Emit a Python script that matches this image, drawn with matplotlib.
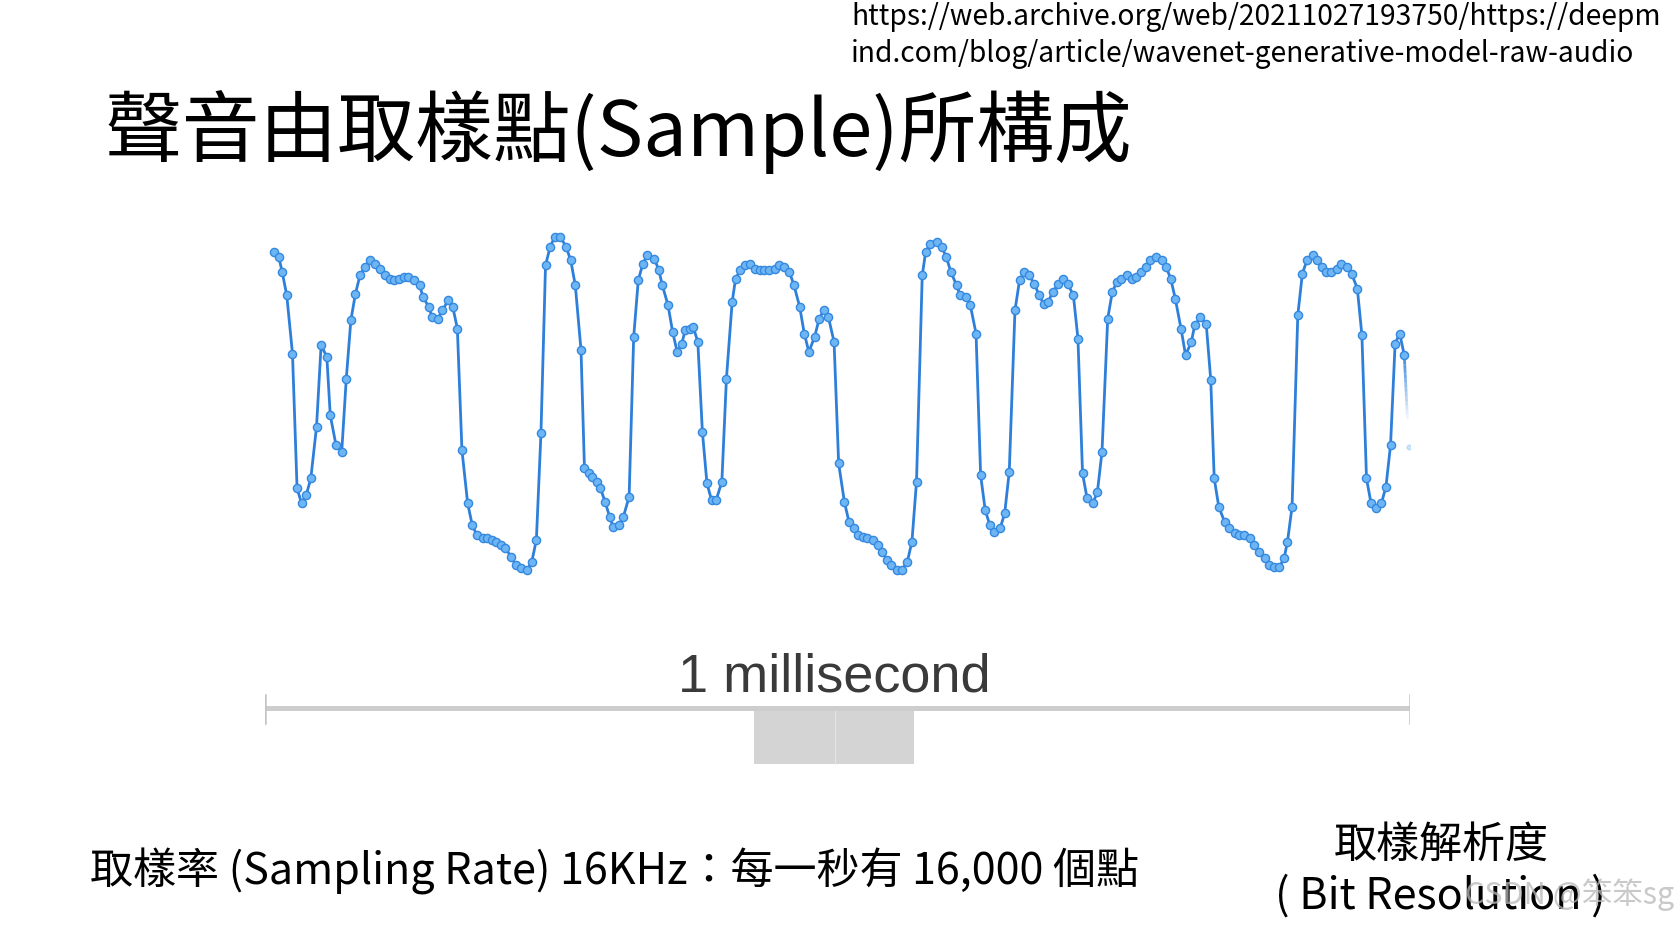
import numpy as np
import matplotlib
matplotlib.use("Agg")
import matplotlib.pyplot as plt
from matplotlib.collections import LineCollection
from matplotlib.patches import Rectangle
from matplotlib.colors import to_rgba

# ---- waveform samples: time (ms) and normalised amplitude ----
time_ms = [
    0.008, 0.012, 0.015, 0.019, 0.024, 0.028, 0.032, 0.036, 0.040, 0.045,
    0.049, 0.054, 0.057, 0.062, 0.067, 0.071, 0.075, 0.079, 0.083, 0.087,
    0.092, 0.096, 0.100, 0.105, 0.109, 0.113, 0.117, 0.121, 0.125, 0.130,
    0.135, 0.138, 0.143, 0.146, 0.151, 0.155, 0.160, 0.164, 0.168, 0.172,
    0.177, 0.181, 0.185, 0.190, 0.194, 0.198, 0.202, 0.206, 0.210, 0.215,
    0.219, 0.224, 0.229, 0.233, 0.237, 0.241, 0.245, 0.249, 0.253, 0.258,
    0.263, 0.267, 0.271, 0.276, 0.279, 0.283, 0.286, 0.290, 0.293, 0.297,
    0.301, 0.304, 0.309, 0.313, 0.318, 0.322, 0.326, 0.330, 0.334,
    0.340, 0.344, 0.347, 0.352, 0.356, 0.360, 0.364, 0.367, 0.371, 0.374,
    0.378, 0.382, 0.386, 0.390, 0.394, 0.399, 0.403, 0.408, 0.411, 0.415,
    0.419, 0.424, 0.428, 0.432, 0.436, 0.440, 0.445, 0.449, 0.453, 0.458,
    0.462, 0.467, 0.471, 0.475, 0.480, 0.484, 0.488, 0.492, 0.497, 0.501,
    0.506, 0.510, 0.514, 0.518, 0.522, 0.526, 0.531, 0.535, 0.539, 0.543,
    0.547, 0.552, 0.556, 0.561, 0.565, 0.569, 0.574, 0.577, 0.581, 0.587,
    0.591, 0.595, 0.599, 0.604, 0.607, 0.612, 0.616, 0.621, 0.625, 0.629,
    0.633, 0.637, 0.642, 0.646, 0.650, 0.655, 0.659, 0.663, 0.667,
    0.672, 0.676, 0.680, 0.684, 0.688, 0.693, 0.697, 0.701, 0.706, 0.710,
    0.714, 0.718, 0.723, 0.727, 0.731, 0.736, 0.740, 0.744, 0.748, 0.753,
    0.757, 0.761, 0.765, 0.769, 0.773, 0.778, 0.783, 0.787, 0.791, 0.795,
    0.800, 0.804, 0.809, 0.812, 0.817, 0.822, 0.826, 0.829, 0.833,
    0.838, 0.842, 0.847, 0.851, 0.855, 0.860, 0.864, 0.868, 0.873, 0.877,
    0.881, 0.886, 0.890, 0.893, 0.897, 0.902, 0.906, 0.910, 0.915, 0.919,
    0.923, 0.927, 0.931, 0.936, 0.940, 0.945, 0.949, 0.954, 0.958, 0.962,
    0.966, 0.970, 0.975, 0.979, 0.983, 0.987, 0.991, 0.995, 0.999,
]

amplitude = [
    0.91, 0.88, 0.79, 0.65, 0.30, -0.51, -0.60, -0.55, -0.45, -0.14,
    0.35, 0.28, -0.07, -0.25, -0.29, 0.15, 0.50, 0.66, 0.77, 0.82,
    0.86, 0.84, 0.81, 0.77, 0.75, 0.74, 0.75, 0.76, 0.76, 0.74,
    0.71, 0.64, 0.58, 0.52, 0.51, 0.56, 0.62, 0.58, 0.45, -0.28,
    -0.60, -0.73, -0.79, -0.81, -0.81, -0.82, -0.83, -0.85, -0.87, -0.92,
    -0.97, -0.99, -1.00, -0.95, -0.82, -0.18, 0.83, 0.94, 1.00, 1.00,
    0.94, 0.86, 0.71, 0.32, -0.39, -0.42, -0.44, -0.47, -0.51, -0.59,
    -0.68, -0.74, -0.73, -0.68, -0.56, 0.40, 0.74, 0.84, 0.89,
    0.87, 0.80, 0.71, 0.59, 0.43, 0.31, 0.36, 0.44, 0.45, 0.46,
    0.37, -0.17, -0.48, -0.58, -0.58, -0.47, 0.15, 0.61, 0.75, 0.80,
    0.83, 0.84, 0.81, 0.80, 0.80, 0.80, 0.81, 0.83, 0.82, 0.79,
    0.71, 0.58, 0.42, 0.31, 0.40, 0.51, 0.56, 0.52, 0.37, -0.36,
    -0.59, -0.71, -0.75, -0.79, -0.80, -0.81, -0.82, -0.85, -0.89, -0.94,
    -0.97, -1.00, -1.00, -0.95, -0.83, -0.47, 0.77, 0.91, 0.96, 0.97,
    0.94, 0.88, 0.79, 0.71, 0.65, 0.64, 0.59, 0.42, -0.43, -0.64,
    -0.73, -0.77, -0.75, -0.66, -0.41, 0.56, 0.74, 0.79, 0.77,
    0.72, 0.65, 0.60, 0.61, 0.67, 0.72, 0.75, 0.72, 0.65, 0.39,
    -0.42, -0.57, -0.60, -0.53, -0.29, 0.51, 0.67, 0.73, 0.75, 0.77,
    0.75, 0.76, 0.79, 0.82, 0.86, 0.88, 0.86, 0.82, 0.75, 0.63,
    0.45, 0.29, 0.37, 0.47, 0.52, 0.48, 0.14, -0.45, -0.62,
    -0.71, -0.75, -0.78, -0.79, -0.79, -0.81, -0.85, -0.89, -0.93, -0.97,
    -0.98, -0.98, -0.93, -0.83, -0.62, 0.53, 0.78, 0.86, 0.89, 0.86,
    0.82, 0.79, 0.79, 0.81, 0.84, 0.82, 0.78, 0.69, 0.41, -0.45,
    -0.60, -0.63, -0.60, -0.50, -0.25, 0.36, 0.42, 0.29, -0.26,
]

scale_label = "1 millisecond"
title_text = "聲音由取樣點(Sample)所構成"
source_lines = ["https://web.archive.org/web/20211027193750/https://deepm",
                "ind.com/blog/article/wavenet-generative-model-raw-audio"]
rate_text = "取樣率 (Sampling Rate) 16KHz：每一秒有 16,000 個點"
resolution_lines = ["取樣解析度", "( Bit Resolution )"]
watermark = "CSDN @笨笨sg"

# ---- figure ----
W, H = 1677, 925
fig = plt.figure(figsize=(W / 100, H / 100), dpi=100)
fig.patch.set_facecolor("white")
CJK = ["Noto Sans CJK TC", "DejaVu Sans"]


def fx(px):
    return px / W


def fy(py):
    return 1 - py / H


# header texts
fig.text(fx(851), fy(17), source_lines[0], fontsize=20.3, family=CJK,
         ha="left", va="center", color="black")
fig.text(fx(851), fy(54), source_lines[1], fontsize=20.3, family=CJK,
         ha="left", va="center", color="black")
fig.text(fx(105), fy(132), title_text, fontsize=56, family=CJK,
         ha="left", va="center", color="black")

# waveform panel
LINE_C = "#2e7fd9"
FACE_C = "#6db5f3"
ax = fig.add_axes([fx(265), fy(590), 1145 / W, 370 / H])
ax.set_xlim(0, 1)
ax.set_ylim(-1.12, 1.102)
ax.axis("off")

t = np.array(time_ms)
a = np.array(amplitude)
ax.plot(t[:-1], a[:-1], "-", color=LINE_C, lw=2.0, zorder=2)
ax.plot(t[:-1], a[:-1], "o", ms=5.9, mfc=FACE_C, mec="#3588e0", mew=1.0, zorder=3)

# trailing segment fades out at the edge of the panel
s = np.linspace(0, 0.75, 16)
xs = t[-2] + (t[-1] - t[-2]) * s
ys = a[-2] + (a[-1] - a[-2]) * s
segs = [[(xs[i], ys[i]), (xs[i + 1], ys[i + 1])] for i in range(len(s) - 1)]
base = np.array(to_rgba(LINE_C))
cols = [np.r_[base[:3], alpha] for alpha in np.linspace(0.9, 0.0, len(segs))]
ax.add_collection(LineCollection(segs, colors=cols, lw=2.0, zorder=2))
ax.plot(t[-1:], a[-1:], "o", ms=3.4, mfc=FACE_C, mec=FACE_C, alpha=0.35, zorder=3)

# scale bar for one millisecond
sb = fig.add_axes([fx(265), fy(770), 1145 / W, 80 / H])
sb.set_xlim(0, 1)
sb.set_ylim(0, 1)
sb.axis("off")
sb.add_patch(Rectangle((0.427, 0.075), 0.14, 0.70, facecolor="#d4d4d4",
                       edgecolor="none", zorder=1))
sb.plot([0.498, 0.498], [0.075, 0.775], color="#e6e6e6", lw=0.8, zorder=2)
sb.plot([0, 1], [0.775, 0.775], color="#cdcdcd", lw=3.6,
        solid_capstyle="butt", zorder=3)
for end in (0, 1):
    sb.plot([end, end], [0.59, 0.94], color="#c4c4c4", lw=1.8, zorder=3)

fig.text(fx(834), fy(678), scale_label, fontsize=39, family="Liberation Sans",
         ha="center", va="center", color="#3a3a3a")

# bottom captions
fig.text(fx(90), fy(871), rate_text, fontsize=31, family=CJK,
         ha="left", va="center", color="black")
fig.text(fx(1441), fy(846), resolution_lines[0], fontsize=31, family=CJK,
         ha="center", va="center", color="black")
fig.text(fx(1440), fy(897), resolution_lines[1], fontsize=31, family=CJK,
         ha="center", va="center", color="black")
fig.text(fx(1570), fy(895), watermark, fontsize=22, family=CJK,
         ha="center", va="center", color="#b8b8b8", alpha=0.75)

fig.savefig("out.png", dpi=100, facecolor="white")
